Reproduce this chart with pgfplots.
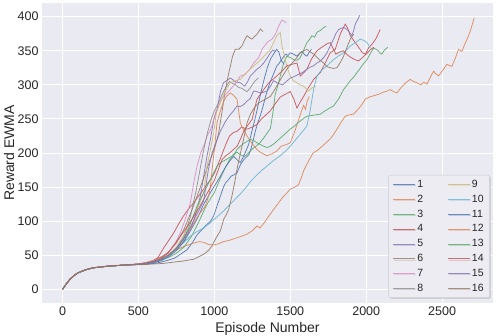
\documentclass[border=0pt]{standalone}
\usepackage{fontspec}
\setmainfont{Liberation Sans}
\usepackage{pgfplots}
\pgfplotsset{compat=1.18}
\usetikzlibrary{shadows}

\definecolor{sbbg}{HTML}{EAEAF2}
\definecolor{txt}{HTML}{262626}
\definecolor{c0}{HTML}{4C72B0}
\definecolor{c1}{HTML}{DD8452}
\definecolor{c2}{HTML}{55A868}
\definecolor{c3}{HTML}{C44E52}
\definecolor{c4}{HTML}{8172B3}
\definecolor{c5}{HTML}{937860}
\definecolor{c6}{HTML}{DA8BC3}
\definecolor{c7}{HTML}{8C8C8C}
\definecolor{c8}{HTML}{CCB974}
\definecolor{c9}{HTML}{64B5CD}

\pgfplotsset{
  run/.style={color=#1, line width=0.75pt, opacity=0.9, forget plot},
}

\begin{document}
\begin{tikzpicture}
\begin{axis}[
    width=451pt, height=300pt, scale only axis,
    xmin=-135, xmax=2835, ymin=-20, ymax=420,
    axis background/.style={fill=sbbg},
    axis line style={draw=none},
    grid=major,
    major grid style={white, line width=0.9pt},
    tick style={draw=none},
    xtick={0,500,...,2500},
    ytick={0,50,...,400},
    scaled ticks=false,
    /pgf/number format/assume math mode=true,
    /pgf/number format/set thousands separator={},
    ticklabel style={font=\fontsize{12.5}{14}\selectfont, text=txt},
    xlabel={Episode Number},
    ylabel={Reward EWMA},
    label style={font=\fontsize{14}{16}\selectfont, text=txt},
    xlabel style={at={(axis description cs:0.5,-0.097)}, anchor=base},
    ylabel style={at={(axis description cs:-0.062,0.5)}, anchor=base},
    legend columns=2,
    legend cell align=left,
    legend image code/.code={\draw[#1] (0pt,0pt) -- (22pt,0pt);},
    legend style={
      at={(axis description cs:0.993,0.017)}, anchor=south east,
      font=\fontsize{10.5}{12}\selectfont, text=txt,
      fill={rgb,255:red,236;green,236;blue,242},
      draw={rgb,255:red,204;green,204;blue,204},
      rounded corners=2pt,
      drop shadow={shadow xshift=1.2pt, shadow yshift=-1.2pt, opacity=0.25},
      row sep=2pt,
      inner xsep=4pt, inner ysep=3pt,
      /tikz/every even column/.append style={column sep=22pt},
    },
  ]
  % 1
  \addplot[run=c0] coordinates {
    (0,0)(25,8)(50,15)(75,20)(100,24)(150,28.5)(200,31.5)(300,34)(400,35.5)(500,36.5)
    (550,37)(600,38)(650,40)(700,43)(740,46)(780,52)(820,58)(860,70)(886,80)(920,88)
    (950,95)(975,100)(996,108)(1020,124)(1040,137)(1060,150)(1073,156)(1090,160)
    (1110,166)(1130,168)(1149,171)(1170,182)(1193,190)(1210,194)(1226,197)(1240,205)
    (1255,218)(1270,232)(1285,244)(1303,255)(1320,268)(1340,285)(1355,296)(1369,305)
    (1390,316)(1412,328)(1425,331)(1440,336)(1455,341)(1470,345)(1485,343)(1500,347)
    (1520,345)(1544,342)(1560,346)(1577,349)(1595,344)(1610,342)(1625,348)(1640,352)
  };
  % 2
  \addplot[run=c1] coordinates {
    (0,0)(25,8.5)(50,15.5)(75,20.5)(100,24.5)(150,29)(200,32)(300,34.5)(400,36)(500,37)
    (550,39)(600,43)(650,48)(700,53)(750,58)(800,63)(850,67)(900,70)(930,69)(960,66)
    (995,65)(1030,67)(1060,70)(1100,72)(1140,75)(1180,78)(1215,81)(1250,86)(1281,93)
    (1300,90)(1330,98)(1360,108)(1390,117)(1420,126)(1450,135)(1480,142)(1500,147)
    (1530,150)(1553,153)(1570,162)(1590,175)(1620,188)(1650,200)(1680,204)(1700,208)
    (1730,214)(1760,220)(1785,227)(1810,236)(1840,247)(1862,254)(1890,256)(1917,257)
    (1950,265)(1975,272)(1994,279)(2020,282)(2050,284)(2081,286)(2110,289)(2140,291)
    (2158,293)(2180,290)(2202,288)(2230,296)(2260,303)(2290,308)(2310,305)(2334,303)
    (2360,300)(2380,304)(2400,301)(2420,310)(2443,320)(2460,316)(2476,313)(2500,320)
    (2531,330)(2550,328)(2564,327)(2585,338)(2608,352)(2630,349)(2650,360)(2674,372)
    (2690,382)(2711,398)
  };
  % 3
  \addplot[run=c2] coordinates {
    (0,0)(25,8)(50,15)(75,20)(100,24)(150,28.5)(200,31.5)(300,34)(400,35.5)(500,36.8)
    (550,38)(600,40)(650,43)(700,47)(750,53)(800,62)(850,78)(900,100)(930,115)(960,128)
    (1000,142)(1030,158)(1050,168)(1075,180)(1100,190)(1125,198)(1150,201)(1175,197)
    (1200,195)(1225,200)(1250,206)(1275,210)(1300,215)(1325,222)(1350,230)(1369,236)
    (1385,258)(1400,285)(1423,303)(1440,318)(1456,332)(1478,342)(1500,340)(1522,337)
    (1545,336)(1566,340)(1590,352)(1610,362)(1625,366)(1643,372)(1660,370)(1676,377)
    (1700,380)(1720,384)(1737,386)
  };
  % 4
  \addplot[run=c3] coordinates {
    (0,0)(25,8)(50,15)(75,20)(100,24)(150,28.5)(200,31.5)(300,34)(400,35.5)(500,37.5)
    (550,39)(600,42)(630,47)(667,61)(700,72)(733,83)(765,96)(798,108)(830,118)(864,127)
    (900,138)(930,147)(955,155)(974,161)(1000,170)(1018,180)(1040,192)(1062,205)
    (1080,215)(1100,225)(1125,230)(1150,232)(1180,238)(1215,235)(1250,238)(1281,242)
    (1310,250)(1340,256)(1369,262)(1400,272)(1434,282)(1465,286)(1500,290)(1522,280)
    (1544,266)(1566,275)(1588,283)(1620,296)(1654,308)(1676,313)(1698,318)(1730,332)
    (1763,347)(1796,352)(1830,375)(1862,389)(1880,382)(1895,372)(1928,362)(1950,355)
    (1975,347)(1995,345)(2015,354)(2040,360)(2065,368)(2092,381)
  };
  % 5
  \addplot[run=c4] coordinates {
    (0,0)(25,8)(50,15)(75,20)(100,24)(150,28.5)(200,31.5)(300,34)(400,35.5)(500,37)
    (550,38.5)(600,41)(650,45)(700,51)(750,60)(800,72)(850,92)(880,112)(908,137)
    (930,166)(952,196)(974,220)(996,249)(1018,264)(1040,290)(1060,303)(1080,306)
    (1105,310)(1125,307)(1140,304)(1171,303)(1200,298)(1220,305)(1237,313)(1260,318)
    (1281,323)(1300,326)(1325,332)(1350,340)(1369,347)(1385,351)(1402,349)
  };
  % 6
  \addplot[run=c5] coordinates {
    (0,0)(25,8)(50,15)(75,20)(100,24)(150,28.5)(200,31.5)(300,34)(400,35.5)(500,37)
    (550,39)(600,42)(650,47)(700,55)(750,68)(800,88)(850,115)(900,145)(940,170)
    (974,191)(1000,205)(1029,230)(1050,260)(1073,293)(1090,312)(1105,327)(1120,342)
    (1138,352)(1160,352)(1182,357)(1200,366)(1215,372)(1232,369)(1248,367)(1265,371)
    (1281,374)(1303,382)(1320,378)
  };
  % 7
  \addplot[run=c6] coordinates {
    (0,0)(25,8)(50,15)(75,20)(100,24)(150,28.5)(200,31.5)(300,34)(400,35.5)(500,37)
    (550,39)(600,42)(650,46)(700,55)(740,66)(780,85)(810,104)(842,127)(864,156)
    (886,181)(905,196)(919,205)(935,213)(952,225)(970,232)(985,240)(1007,259)
    (1030,270)(1050,280)(1075,286)(1105,293)(1130,300)(1150,305)(1171,313)(1200,315)
    (1230,322)(1259,332)(1292,340)(1314,352)(1330,357)(1347,362)(1365,365)(1380,367)
    (1402,374)(1423,386)(1445,395)(1460,393)(1474,391)
  };
  % 8
  \addplot[run=c7] coordinates {
    (0,0)(25,8)(50,15)(75,20)(100,24)(150,28.5)(200,31.5)(300,34)(400,35.5)(500,36.8)
    (550,38.5)(600,41)(650,45)(700,50)(750,60)(800,78)(840,105)(880,145)(905,175)
    (930,205)(955,230)(980,250)(1000,262)(1020,270)(1040,280)(1060,290)(1080,298)
    (1100,305)(1120,302)(1140,300)(1160,296)(1180,295)(1200,292)(1215,290)(1235,295)
    (1250,300)(1270,306)(1290,310)
  };
  % 9
  \addplot[run=c8] coordinates {
    (0,0)(25,8)(50,15)(75,20)(100,24)(150,28.5)(200,31.5)(300,34)(400,35.5)(500,37)
    (550,38.8)(600,41.5)(650,45)(700,51)(750,62)(800,80)(850,102)(900,125)(930,142)
    (952,181)(974,205)(996,230)(1013,259)(1040,275)(1070,290)(1105,303)(1140,306)
    (1171,308)(1200,315)(1230,322)(1260,328)(1281,332)(1310,338)(1340,345)(1369,352)
    (1390,362)(1412,372)(1434,377)(1445,357)(1467,337)(1485,322)(1500,313)(1520,306)
    (1544,303)(1565,300)(1588,298)(1605,294)(1621,291)(1640,295)(1665,298)
  };
  % 10
  \addplot[run=c9] coordinates {
    (0,0)(25,8)(50,15)(75,20)(100,24)(150,28.5)(200,31.5)(300,34)(400,35.5)(500,37)
    (550,38.5)(600,41)(650,45)(700,50)(740,57)(780,65)(810,71)(842,78)(880,84)(930,90)
    (970,97)(1010,105)(1061,115)(1100,124)(1140,133)(1171,140)(1210,150)(1245,160)
    (1281,168)(1315,175)(1347,181)(1390,189)(1434,196)(1470,203)(1500,210)(1530,218)
    (1560,226)(1590,234)(1610,240)(1632,264)(1655,295)(1676,313)(1700,320)(1742,328)
    (1780,336)(1815,342)(1851,347)(1875,352)(1895,357)(1930,362)(1961,367)(1985,365)
    (2005,362)(2027,354)
  };
  % 11
  \addplot[run=c0] coordinates {
    (0,0)(25,8)(50,15)(75,20)(100,24)(150,28.5)(200,31.5)(300,34)(400,35.5)(500,36.5)
    (550,37.5)(600,39)(650,42)(700,48)(750,57)(800,70)(840,85)(886,103)(930,125)
    (974,142)(1010,155)(1040,166)(1070,178)(1100,188)(1127,195)(1150,190)(1171,186)
    (1190,194)(1204,201)(1225,212)(1245,230)(1270,252)(1290,272)(1310,292)(1330,310)
    (1350,326)(1370,338)(1390,345)(1410,352)(1425,348)(1440,336)(1460,330)
  };
  % 12
  \addplot[run=c1] coordinates {
    (0,0)(25,8)(50,15)(75,20)(100,24)(150,28.5)(200,31.5)(300,34)(400,35.5)(500,37)
    (550,39)(600,41.5)(650,45)(700,50)(750,60)(800,75)(850,92)(900,110)(940,122)
    (960,135)(974,150)(985,175)(1000,205)(1018,245)(1040,262)(1060,275)(1080,283)
    (1105,288)(1125,285)(1149,279)(1160,262)(1171,244)(1190,235)(1215,225)(1245,215)
    (1281,205)(1310,200)(1347,196)(1380,199)(1412,203)(1440,210)(1470,212)(1500,215)
    (1530,232)(1555,249)(1575,262)(1588,270)(1600,264)(1610,275)(1625,283)
  };
  % 13
  \addplot[run=c2] coordinates {
    (0,0)(25,8)(50,15)(75,20)(100,24)(150,28.5)(200,31.5)(300,34)(400,35.5)(500,36.8)
    (550,38)(600,40.5)(650,44)(700,50)(750,60)(800,75)(840,95)(886,122)(930,142)
    (974,161)(1018,181)(1050,187)(1083,191)(1105,194)(1127,196)(1149,205)(1171,210)
    (1200,215)(1237,220)(1260,218)(1281,215)(1315,211)(1347,208)(1370,210)(1390,213)
    (1420,219)(1450,225)(1475,230)(1500,235)(1530,240)(1560,246)(1590,251)(1610,254)
    (1640,255)(1670,256)(1698,257)(1730,262)(1760,266)(1785,269)(1820,280)(1851,293)
    (1875,300)(1895,306)(1920,312)(1939,318)(1960,324)(1972,328)(1990,333)(2005,337)
    (2025,345)(2048,354)(2065,352)(2080,350)(2092,346)(2103,345)(2120,351)(2141,355)
  };
  % 14
  \addplot[run=c3] coordinates {
    (0,0)(25,8)(50,15)(75,20)(100,24)(150,28.5)(200,31.5)(300,34)(400,35.5)(500,37)
    (550,38.5)(600,41)(650,45)(700,55)(750,70)(800,85)(850,102)(900,120)(950,140)
    (1000,160)(1025,175)(1050,190)(1075,196)(1100,200)(1125,205)(1150,210)(1175,222)
    (1200,235)(1225,242)(1250,250)(1265,265)(1281,279)(1300,285)(1325,293)(1358,303)
    (1385,308)(1412,313)(1445,320)(1478,328)(1510,330)(1544,332)(1566,313)(1590,318)
    (1610,323)(1640,338)(1676,350)(1700,354)(1720,357)(1740,360)(1763,362)(1785,352)
    (1800,345)(1825,348)(1850,350)(1875,344)(1900,340)(1925,337)(1950,335)(1975,340)
    (2000,345)(2030,352)(2050,355)
  };
  % 15
  \addplot[run=c4] coordinates {
    (0,0)(25,8)(50,15)(75,20)(100,24)(150,28.5)(200,31.5)(300,34)(400,35.5)(500,36.8)
    (550,38.2)(600,40.5)(650,44)(700,50)(750,60)(800,75)(850,95)(890,112)(930,130)
    (960,175)(985,200)(1010,215)(1040,232)(1070,245)(1100,255)(1127,262)(1149,269)
    (1170,268)(1193,271)(1215,276)(1237,280)(1259,291)(1280,290)(1303,288)(1325,289)
    (1347,291)(1370,298)(1390,306)(1420,302)(1450,300)(1475,305)(1500,310)(1525,312)
    (1550,315)(1580,318)(1610,323)(1632,326)(1654,328)(1676,332)(1698,335)(1720,340)
    (1742,347)(1765,358)(1785,367)(1800,375)(1818,381)(1835,383)(1851,384)(1868,382)
    (1884,379)(1906,372)(1918,380)(1928,389)(1945,396)(1957,402)
  };
  % 16
  \addplot[run=c5] coordinates {
    (0,0)(25,8)(50,15)(75,20)(100,24)(150,28.5)(200,31.5)(300,34)(400,35.5)(500,36)
    (550,36.5)(579,37)(620,37.5)(660,38)(700,39)(750,40.5)(796,41.5)(830,43)(862,44)
    (890,47)(908,49)(940,53)(965,58)(985,64)(1010,75)(1040,86)(1062,103)(1080,110)
    (1094,117)(1116,137)(1135,158)(1149,176)(1165,193)(1182,210)(1200,228)(1215,244)
    (1240,258)(1265,267)(1290,273)(1320,277)(1345,280)(1369,283)(1395,292)(1420,302)
    (1450,313)(1478,323)(1505,330)(1533,337)(1566,347)(1590,350)(1610,352)(1632,348)
    (1654,345)(1690,337)(1720,332)(1740,327)(1763,325)(1785,324)(1807,325)(1830,333)
    (1851,342)(1875,356)(1895,367)(1917,374)
  };
  % legend, column by column: 1..8 then 9..16
  \addlegendimage{color=c0, line width=0.75pt, opacity=0.8}\addlegendentry{1}
  \addlegendimage{color=c8, line width=0.75pt, opacity=0.8}\addlegendentry{9}
  \addlegendimage{color=c1, line width=0.75pt, opacity=0.8}\addlegendentry{2}
  \addlegendimage{color=c9, line width=0.75pt, opacity=0.8}\addlegendentry{10}
  \addlegendimage{color=c2, line width=0.75pt, opacity=0.8}\addlegendentry{3}
  \addlegendimage{color=c0, line width=0.75pt, opacity=0.8}\addlegendentry{11}
  \addlegendimage{color=c3, line width=0.75pt, opacity=0.8}\addlegendentry{4}
  \addlegendimage{color=c1, line width=0.75pt, opacity=0.8}\addlegendentry{12}
  \addlegendimage{color=c4, line width=0.75pt, opacity=0.8}\addlegendentry{5}
  \addlegendimage{color=c2, line width=0.75pt, opacity=0.8}\addlegendentry{13}
  \addlegendimage{color=c5, line width=0.75pt, opacity=0.8}\addlegendentry{6}
  \addlegendimage{color=c3, line width=0.75pt, opacity=0.8}\addlegendentry{14}
  \addlegendimage{color=c6, line width=0.75pt, opacity=0.8}\addlegendentry{7}
  \addlegendimage{color=c4, line width=0.75pt, opacity=0.8}\addlegendentry{15}
  \addlegendimage{color=c7, line width=0.75pt, opacity=0.8}\addlegendentry{8}
  \addlegendimage{color=c5, line width=0.75pt, opacity=0.8}\addlegendentry{16}
\end{axis}
\pgfresetboundingbox
\path[use as bounding box] (current axis.south west) ++(-42pt,-33pt)
  rectangle ([xshift=5pt,yshift=3pt]current axis.north east);
\end{tikzpicture}
\end{document}
